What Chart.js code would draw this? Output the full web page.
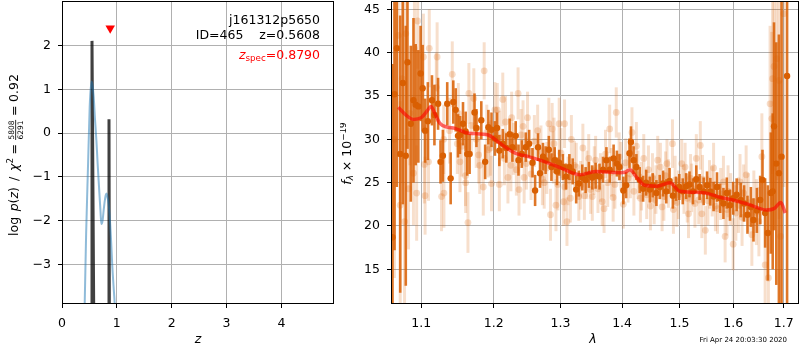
<!DOCTYPE html>
<html lang="en">
<head>
<meta charset="UTF-8">
<title>j161312p5650 redshift fit</title>
<script src="https://cdn.jsdelivr.net/npm/chart.js"></script>
<style>
    body {
        margin: 0;
        padding: 0;
        background: #fff;
        width: 800px;
        height: 350px;
        overflow: hidden;
        position: relative;
    }
    canvas {
        position: absolute;
        top: 0;
    }
    #pzChart { left: 0; }
    #specChart { left: 340px; }
</style>
</head>
<body>
<canvas id="pzChart" width="340" height="350"></canvas>
<canvas id="specChart" width="460" height="350"></canvas>
<script>
    // ---- p(z) panel ----
    const pzXTicks = [0, 1, 2, 3, 4];
    const pzYTicks = [-3, -2, -1, 0, 1, 2];
    const pzZ =    [0.39, 0.414, 0.44, 0.474, 0.505, 0.535, 0.555, 0.578, 0.60, 0.627, 0.65, 0.675, 0.70, 0.718, 0.74, 0.76, 0.78, 0.797, 0.812, 0.827, 0.85, 0.87, 0.895, 0.918, 0.94, 0.961, 0.99];
    const pzLogP = [-5.2, -3.91, -2.3, -0.77, 0.60, 1.18, 1.1, 0.83, 0.35, -0.16, -0.70, -1.23, -1.75, -2.08, -2.0, -1.76, -1.55, -1.42, -1.38, -1.45, -1.62, -1.91, -2.45, -3.06, -3.5, -3.91, -4.9];
    const spikeAZ = [0.532, 0.547, 0.581];
    const spikeALogP = [-4.6, 2.11, -4.6];
    const spikeBZ = [0.852, 0.857, 0.865];
    const spikeBLogP = [-4.6, 0.32, -4.6];
    const zSpec = 0.879;
    const zSpecMarkLogP = 2.4;
    const objName = 'j161312p5650';
    const idLine = 'ID=465    z=0.5608';
    const zSpecValue = '=0.8790';

    // ---- spectrum panel ----
    const specXTicks = [1.1, 1.2, 1.3, 1.4, 1.5, 1.6, 1.7];
    const specYTicks = [15, 20, 25, 30, 35, 40, 45];

    const darkLam = [1.0626, 1.0652, 1.0681, 1.0725, 1.0759, 1.0797, 1.0819, 1.0862, 1.0897, 1.0926, 1.0961, 1.0991, 1.1018, 1.1051, 1.1087, 1.1142, 1.1175, 1.1224, 1.1257, 1.1289,
        1.1348, 1.1395, 1.1431, 1.1464, 1.1496, 1.1523, 1.1565, 1.1602, 1.1624, 1.1657, 1.1726, 1.1753, 1.1822, 1.1877, 1.1923, 1.1968, 1.2017,
        1.2047, 1.2081, 1.2131, 1.2182, 1.2231, 1.2272, 1.2321, 1.2362, 1.2411, 1.2471, 1.2521, 1.2572, 1.2611, 1.2656, 1.2686, 1.2731, 1.2771, 1.2821, 1.2861, 1.2911, 1.2947, 1.2981,
        1.3039, 1.3087, 1.3141, 1.3194, 1.3249, 1.3291, 1.3346, 1.3400, 1.3453, 1.3508, 1.3562, 1.3626, 1.3683, 1.3739, 1.3793, 1.3858, 1.3913, 1.3955,
        1.4021, 1.4068, 1.4125, 1.4150, 1.4195, 1.4242, 1.4299, 1.4358, 1.4410, 1.4473, 1.4525, 1.4589, 1.4647, 1.4706, 1.4763, 1.4821, 1.4880, 1.4937, 1.4995,
        1.5058, 1.5119, 1.5180, 1.5244, 1.5305, 1.5366, 1.5441, 1.5504, 1.5565, 1.5626, 1.5690, 1.5751, 1.5812, 1.5876, 1.5937, 1.5998,
        1.6065, 1.6144, 1.6209, 1.6275, 1.6342, 1.6393, 1.6460, 1.6525, 1.6571, 1.6624, 1.6678, 1.6737, 1.6776, 1.6802, 1.6848, 1.6901, 1.6955, 1.7068];
    const darkFlux = [18.7, 35.2, 40.5, 28.3, 36.5, 28.1, 38.9, 31.8, 34.5, 34.0, 33.8, 37.6, 35.9, 31.0, 32.1, 34.5, 32.8, 34.1, 27.4, 28.1,
        34.1, 25.5, 34.3, 33.4, 30.4, 30.5, 31.8, 30.9, 28.3, 28.3, 33.1, 31.3, 32.2, 27.4, 31.4, 31.1, 30.1,
        31.3, 28.7, 29.5, 29.0, 30.6, 29.1, 30.4, 27.6, 28.3, 29.1, 29.5, 27.3, 24.1, 29.1, 26.1, 28.0, 27.6, 28.8, 26.8, 27.6, 26.3, 27.3,
        26.8, 25.7, 26.8, 26.3, 24.2, 24.9, 25.6, 25.3, 25.9, 25.6, 25.8, 25.7, 26.5, 27.6, 26.5, 27.8, 27.2, 26.8,
        24.1, 24.7, 28.4, 29.7, 27.6, 26.8, 25.3, 24.3, 25.0, 24.2, 24.7, 23.8, 24.5, 24.9, 24.0, 25.2, 23.5, 24.3, 24.5,
        24.0, 24.6, 24.8, 24.0, 25.4, 24.5, 24.0, 24.7, 23.95, 23.4, 24.5, 23.2, 22.6, 23.8, 22.4, 23.2,
        23.6, 23.0, 22.6, 21.3, 22.2, 20.7, 21.8, 23.0, 25.3, 21.5, 19.2, 23.8, 24.0, 31.5, 27.2, 26.1, 28.0, 37.3];
    const darkErr = [20, 18, 16, 16, 14, 15, 10, 9, 9.5, 7, 6.5, 5.5, 5, 3.7, 4.5, 2.9, 3.5, 3, 2.5, 3,
        2.5, 3, 2.5, 2.5, 2.5, 2.2, 2.5, 2.3, 2.5, 2.3, 2.2, 2.2, 2.2, 2, 2, 2, 2,
        1.8, 1.8, 1.7, 1.7, 1.8, 1.7, 1.7, 1.8, 1.6, 1.7, 1.6, 1.7, 1.8, 1.6, 1.7, 1.6, 1.6, 1.6, 1.6, 1.5, 1.6, 1.5,
        1.5, 1.5, 1.5, 1.5, 1.6, 1.5, 1.5, 1.5, 1.5, 1.4, 1.5, 1.5, 1.5, 1.5, 1.5, 1.6, 1.5, 1.5,
        1.6, 1.5, 1.7, 1.8, 1.6, 1.5, 1.5, 1.5, 1.5, 1.5, 1.4, 1.5, 1.4, 1.5, 1.4, 1.5, 1.5, 1.4, 1.5,
        1.5, 1.5, 1.5, 1.5, 1.6, 1.5, 1.6, 1.6, 1.6, 1.7, 1.7, 1.7, 1.8, 1.8, 1.8, 1.9,
        1.9, 2, 2.1, 2.2, 2.3, 2.5, 2.6, 2.8, 3.5, 4, 5.5, 7, 9, 12, 14, 16, 25, 30];

    const lightLam = [1.065, 1.070, 1.0725, 1.075, 1.0781, 1.0797, 1.0833, 1.085, 1.0897, 1.0910, 1.0939, 1.0952, 1.1028, 1.1041, 1.105, 1.1096, 1.1106, 1.1211, 1.12, 1.1271,
        1.13, 1.1303, 1.1380, 1.1417, 1.1486, 1.15, 1.1523, 1.1550, 1.16, 1.1602, 1.1634, 1.1647, 1.1680, 1.1716, 1.175, 1.1785, 1.1800, 1.1863, 1.185, 1.1900, 1.1923, 1.195, 1.1968,
        1.2017, 1.2051, 1.2081, 1.2085, 1.2131, 1.2155, 1.2171, 1.2206, 1.225, 1.2261, 1.2290, 1.2330, 1.2356, 1.2370, 1.24, 1.2430, 1.2446, 1.2480, 1.2497, 1.255, 1.2600, 1.265,
        1.2700, 1.2722, 1.275, 1.2790, 1.2821, 1.2846, 1.2872, 1.2890, 1.29, 1.2931, 1.2960, 1.2981,
        1.3010, 1.3049, 1.307, 1.3065, 1.3103, 1.3120, 1.3157, 1.3173, 1.322, 1.3250, 1.3291, 1.3320, 1.3356, 1.338, 1.3420, 1.345, 1.3480, 1.3508, 1.3540, 1.3562, 1.36, 1.3640,
        1.3670, 1.3700, 1.3724, 1.3760, 1.3793, 1.3820, 1.385, 1.3880, 1.3902, 1.395, 1.3980,
        1.4021, 1.4060, 1.41, 1.4140, 1.4167, 1.42, 1.4242, 1.4270, 1.4311, 1.4330, 1.4369, 1.4420, 1.445, 1.4485, 1.4520, 1.455, 1.4580, 1.4612, 1.4659, 1.4689, 1.4720, 1.475,
        1.4775, 1.4800, 1.4873, 1.4890, 1.4920, 1.495, 1.4980,
        1.5039, 1.5080, 1.5100, 1.5140, 1.5162, 1.52, 1.5220, 1.5280, 1.5305, 1.535, 1.5379, 1.5407, 1.5420, 1.5472, 1.5520, 1.555, 1.5600, 1.5626, 1.5660, 1.57, 1.5760,
        1.5812, 1.5844, 1.5880, 1.59, 1.5950, 1.5998,
        1.605, 1.6100, 1.6130, 1.6170, 1.62, 1.6249, 1.6290, 1.6361, 1.64, 1.6450, 1.65, 1.6559, 1.6624, 1.6689, 1.6723, 1.6757, 1.6773, 1.6802, 1.6855, 1.6907, 1.6935, 1.7000];
    const lightFlux = [30.0, 42.0, 22.4, 37.0, 20.5, 42.2, 24.3, 33.0, 26.1, 40.5, 23.8, 43.65, 39.5, 27.1, 23.5, 27.4, 40.5, 39.5, 36.0, 23.4,
        30.0, 23.8, 31.0, 37.5, 29.5, 33.0, 27.4, 29.2, 25.8, 25.0, 20.4, 35.3, 31.6, 34.7, 30.0, 28.2, 27.0, 37.9, 24.5, 30.8, 28.8, 29.0, 24.9,
        33.4, 33.4, 24.8, 30.2, 34.6, 27.8, 32.0, 25.6, 27.0, 32.5, 28.9, 26.5, 35.3, 24.2, 30.5, 31.5, 25.6, 27.2, 32.5, 26.0, 29.8, 31.0,
        28.6, 25.4, 25.0, 26.7, 31.8, 21.3, 31.2, 27.9, 29.5, 22.4, 24.8, 31.8,
        28.4, 22.8, 24.5, 31.8, 20.5, 25.2, 23.2, 30.0, 27.0, 26.8, 23.4, 24.7, 29.0, 23.5, 25.9, 27.8, 24.2, 23.4, 26.4, 27.6, 24.3, 25.6,
        22.8, 22.0, 28.3, 25.0, 31.2, 26.2, 23.3, 24.8, 33.1, 28.0, 26.9,
        22.5, 27.3, 25.5, 26.0, 30.8, 24.0, 29.2, 25.9, 23.2, 24.6, 27.8, 23.6, 26.5, 22.3, 25.6, 23.0, 24.2, 27.6, 26.8, 22.2, 23.4, 25.8,
        27.2, 24.9, 29.5, 21.9, 25.3, 22.7, 23.6,
        27.2, 24.2, 26.8, 23.2, 21.4, 25.5, 24.4, 22.6, 27.8, 23.0, 29.3, 21.4, 25.4, 19.5, 22.9, 24.8, 24.0, 26.7, 22.3, 22.0, 23.7,
        25.1, 18.8, 21.9, 24.0, 23.1, 17.9,
        21.5, 22.4, 25.1, 21.0, 23.8, 25.9, 22.7, 19.0, 22.8, 21.6, 20.5, 28.0, 15.5, 14.0, 34.1, 32.4, 37.0, 38.4, 39.3, 36.8, 18.8, 44.5];
    const lightErr = [16, 14, 12, 12, 10, 9, 7, 6, 6, 6, 5.5, 5.5, 5, 4.5, 4.5, 4.5, 4.5, 4, 4, 4,
        4, 4, 3.8, 3.8, 3.5, 3.5, 3.5, 3.5, 3.5, 3.5, 3.5, 3.5, 3.4, 3.5, 3.3, 3.3, 3.3, 3.3, 3.3, 3.2, 3.2, 3.2, 3.2,
        3.2, 3.1, 3.1, 3.1, 3.1, 3.1, 3, 3, 3, 3, 3, 3, 3, 3, 3, 3, 3, 3, 3, 3, 3, 3,
        3, 3, 3, 3, 3, 3, 3, 3, 3, 3, 3, 3,
        2.9, 2.8, 2.8, 2.8, 2.8, 2.8, 2.8, 2.8, 2.8, 2.8, 2.8, 2.8, 2.8, 2.8, 2.8, 2.8, 2.8, 2.8, 2.8, 2.8, 2.8, 2.8,
        2.8, 2.8, 2.8, 2.8, 2.8, 2.8, 2.8, 2.8, 2.9, 2.8, 2.8,
        2.8, 2.8, 2.8, 2.8, 2.9, 2.8, 2.8, 2.8, 2.8, 2.8, 2.8, 2.8, 2.8, 2.8, 2.8, 2.8, 2.8, 2.8, 2.8, 2.8, 2.8, 2.8,
        2.8, 2.8, 2.8, 2.8, 2.8, 2.8, 2.8,
        2.8, 2.8, 2.8, 2.8, 2.8, 2.8, 2.8, 2.8, 2.8, 2.8, 2.8, 2.8, 2.8, 2.8, 2.8, 2.8, 2.9, 2.9, 2.9, 2.9, 3,
        3, 3, 3, 3, 3, 3,
        3.2, 3.2, 3.2, 3.3, 3.3, 3.4, 3.4, 3.6, 3.6, 3.8, 4, 5, 6, 8, 9, 10, 11, 12, 14, 16, 18, 20];

    const modelLam = [1.070, 1.080, 1.0895, 1.100, 1.108, 1.1128, 1.118, 1.1249, 1.135, 1.1454, 1.1637, 1.1919, 1.2063, 1.2312, 1.2511, 1.2764, 1.3022, 1.3312, 1.3555, 1.3965, 1.405, 1.413, 1.425, 1.4388, 1.46, 1.4826, 1.5006, 1.525, 1.5475, 1.575, 1.599, 1.63, 1.665, 1.68, 1.694, 1.703];
    const modelFlux = [33.7, 32.8, 32.3, 32.5, 33.3, 33.8, 33.0, 31.85, 31.4, 31.27, 30.7, 30.5, 29.7, 28.4, 28.0, 27.4, 26.65, 25.9, 26.3, 26.15, 26.2, 26.5, 25.6, 24.7, 24.6, 25.0, 24.0, 23.9, 23.8, 23.3, 23.0, 22.5, 21.85, 22.0, 22.7, 21.5];

    const stamp = 'Fri Apr 24 20:03:30 2020';

    const FONT = "'DejaVu Sans', sans-serif";
    const tickFont = { family: FONT, size: 12.5 };
    const GRID = '#b0b0b0';
    const ORANGE = '#d95f02';

    function points(xs, ys) {
        return xs.map((x, i) => ({ x: x, y: ys[i] }));
    }
    function fmtNum(v) {
        return v < 0 ? '\u2212' + Math.abs(v) : String(v);
    }

    // rich text: parts drawn one after another on one baseline
    function setFont(ctx, p) {
        ctx.font = (p.it ? 'italic ' : '') + p.s + 'px ' + FONT;
    }
    function partWidth(ctx, p) {
        if (p.sp) return p.sp;
        if (p.frac) {
            ctx.font = p.s + 'px ' + FONT;
            return Math.max(ctx.measureText(p.frac[0]).width, ctx.measureText(p.frac[1]).width) + 3;
        }
        setFont(ctx, p);
        return ctx.measureText(p.t).width;
    }
    function richText(ctx, parts, x, y, align) {
        ctx.textAlign = 'left';
        ctx.textBaseline = 'alphabetic';
        let w = 0;
        parts.forEach(p => { p.w = partWidth(ctx, p); w += p.w; });
        let cx = align === 'right' ? x - w : align === 'center' ? x - w / 2 : x;
        parts.forEach(p => {
            if (p.frac) {
                ctx.font = p.s + 'px ' + FONT;
                ctx.textAlign = 'center';
                ctx.fillText(p.frac[0], cx + p.w / 2, y + p.num);
                ctx.fillText(p.frac[1], cx + p.w / 2, y + p.den);
                ctx.textAlign = 'left';
                ctx.fillRect(cx + 1, y + p.bar - 0.4, p.w - 2, 0.8);
            } else if (p.t) {
                setFont(ctx, p);
                ctx.fillText(p.t, cx, y + (p.dy || 0));
            }
            cx += p.w;
        });
    }

    const frame = {
        id: 'frame',
        afterDraw(chart) {
            const { ctx, chartArea: a } = chart;
            ctx.save();
            ctx.strokeStyle = '#000';
            ctx.lineWidth = 1;
            ctx.strokeRect(Math.round(a.left) + 0.5, Math.round(a.top) + 0.5, Math.round(a.right - a.left) - 1, Math.round(a.bottom - a.top) - 1);
            ctx.restore();
        }
    };

    const errorBars = {
        id: 'errorBars',
        beforeDatasetDraw(chart, args) {
            const ds = chart.data.datasets[args.index];
            if (!ds.errors) return;
            const { ctx, chartArea: a, scales: { x, y } } = chart;
            ctx.save();
            ctx.beginPath();
            ctx.rect(a.left, a.top, a.right - a.left, a.bottom - a.top);
            ctx.clip();
            ctx.strokeStyle = ds.errorColor;
            ctx.lineWidth = ds.errorWidth;
            ds.data.forEach((p, i) => {
                const px = x.getPixelForValue(p.x);
                ctx.beginPath();
                ctx.moveTo(px, y.getPixelForValue(p.y - ds.errors[i]));
                ctx.lineTo(px, y.getPixelForValue(p.y + ds.errors[i]));
                ctx.stroke();
            });
            ctx.restore();
        }
    };

    function axis(opts) {
        return Object.assign({
            afterBuildTicks: s => { s.ticks = opts.tickValues.map(v => ({ value: v })); },
            ticks: {
                font: tickFont, color: '#000', padding: opts.pad, autoSkip: false, maxRotation: 0,
                callback: opts.fmt
            },
            grid: { color: GRID, lineWidth: 1, tickColor: '#000', tickLength: 4, drawTicks: true },
            border: { display: false },
            afterFit: s => {
                if (opts.size.h) s.height = opts.size.h;
                if (opts.size.w) s.width = opts.size.w;
                s.paddingLeft = 0; s.paddingRight = 0; s.paddingTop = 0; s.paddingBottom = 0;
            }
        }, opts.base);
    }

    // ---------- left: p(z) ----------
    const pzLabels = {
        id: 'pzLabels',
        afterDraw(chart) {
            const { ctx, chartArea: a } = chart;
            ctx.save();
            ctx.fillStyle = '#000';
            richText(ctx, [{ t: objName, s: 12.5 }], a.right - 14, 24, 'right');
            richText(ctx, [{ t: idLine, s: 12.5 }], a.right - 14, 39, 'right');
            ctx.fillStyle = '#ff0000';
            richText(ctx, [{ t: 'z', s: 12.5, it: true }, { t: 'spec', s: 8.75, dy: 2.5 }, { t: zSpecValue, s: 12.5 }], a.right - 14, 58.5, 'right');
            ctx.fillStyle = '#000';
            richText(ctx, [{ t: 'z', s: 12.5, it: true }], (a.left + a.right) / 2, 343, 'center');
            ctx.translate(17.5, 155);
            ctx.rotate(-Math.PI / 2);
            richText(ctx, [
                { t: 'log', s: 12.5 }, { sp: 5.5 }, { t: 'p', s: 12.5, it: true }, { t: '(', s: 12.5 }, { t: 'z', s: 12.5, it: true },
                { t: ')', s: 12.5 }, { sp: 6 }, { t: '/', s: 12.5 }, { sp: 6 }, { t: '\u03c7', s: 12.5, it: true }, { t: '2', s: 8.75, dy: -5 },
                { sp: 3.5 }, { t: '=', s: 12.5 }, { sp: 3 }, { frac: ['5808', '6291'], s: 7.5, num: -3.5, den: 5.5, bar: -1.8 },
                { sp: 3 }, { t: '=', s: 12.5 }, { sp: 3.5 }, { t: '0.92', s: 12.5 }
            ], 0, 0, 'center');
            ctx.restore();
        }
    };

    new Chart(document.getElementById('pzChart'), {
        type: 'scatter',
        data: {
            datasets: [
                {
                    data: [{ x: zSpec, y: zSpecMarkLogP }],
                    pointStyle: 'triangle', rotation: 180, pointRadius: 5.5,
                    backgroundColor: '#ff0000', borderWidth: 0, order: 0
                },
                {
                    data: points(pzZ, pzLogP), showLine: true, borderColor: 'rgba(31,119,180,0.5)', borderWidth: 2,
                    pointRadius: 0, cubicInterpolationMode: 'monotone', clip: 0, order: 1
                },
                {
                    data: points(spikeAZ, spikeALogP), showLine: true, borderColor: 'rgba(0,0,0,0.75)', borderWidth: 3,
                    pointRadius: 0, tension: 0, clip: 0, order: 2
                },
                {
                    data: points(spikeBZ, spikeBLogP), showLine: true, borderColor: 'rgba(0,0,0,0.75)', borderWidth: 3,
                    pointRadius: 0, tension: 0, clip: 0, order: 2
                }
            ]
        },
        options: {
            responsive: false,
            animation: false,
            layout: { autoPadding: false, padding: { top: 1, left: 0, right: 6, bottom: 0 } },
            plugins: { legend: { display: false }, tooltip: { enabled: false } },
            scales: {
                x: axis({ tickValues: pzXTicks, pad: 8, fmt: v => fmtNum(v), size: { h: 46 }, base: { type: 'linear', min: 0, max: 4.96 } }),
                y: axis({ tickValues: pzYTicks, pad: 7, fmt: v => fmtNum(v), size: { w: 62 }, base: { type: 'linear', min: -3.908, max: 3.022 } })
            }
        },
        plugins: [frame, pzLabels]
    });

    // ---------- right: spectrum ----------
    const specLabels = {
        id: 'specLabels',
        afterDraw(chart) {
            const { ctx, chartArea: a } = chart;
            ctx.save();
            ctx.fillStyle = '#000';
            richText(ctx, [{ t: '\u03bb', s: 12.5, it: true }], (a.left + a.right) / 2 - 2, 343, 'center');
            richText(ctx, [{ t: stamp, s: 7 }], a.right - 12, 341.5, 'right');
            ctx.translate(10.5, 153.5);
            ctx.rotate(-Math.PI / 2);
            richText(ctx, [
                { t: 'f', s: 12.5, it: true }, { t: '\u03bb', s: 8.75, it: true, dy: 2.5 },
                { t: ' \u00d7 10', s: 12.5 }, { t: '\u221219', s: 8.75, dy: -5 }
            ], 0, 0, 'center');
            ctx.restore();
        }
    };

    new Chart(document.getElementById('specChart'), {
        type: 'scatter',
        data: {
            datasets: [
                {
                    data: points(modelLam, modelFlux), showLine: true, borderColor: 'rgba(255,0,0,0.6)', borderWidth: 3.5,
                    pointRadius: 0, cubicInterpolationMode: 'monotone', order: 1
                },
                {
                    data: points(darkLam, darkFlux), errors: darkErr, errorColor: 'rgba(217,95,2,0.85)', errorWidth: 2.6,
                    pointRadius: 3.2, backgroundColor: ORANGE, borderWidth: 0, order: 2
                },
                {
                    data: points(lightLam, lightFlux), errors: lightErr, errorColor: 'rgba(217,95,2,0.2)', errorWidth: 3,
                    pointRadius: 3.4, backgroundColor: 'rgba(217,95,2,0.22)', borderWidth: 0, order: 3
                }
            ]
        },
        options: {
            responsive: false,
            animation: false,
            layout: { autoPadding: false, padding: { top: 1, left: 0, right: 1, bottom: 0 } },
            plugins: { legend: { display: false }, tooltip: { enabled: false } },
            scales: {
                x: axis({ tickValues: specXTicks, pad: 8, fmt: v => Number(v).toFixed(1), size: { h: 46 }, base: { type: 'logarithmic', min: 1.0607, max: 1.7314 } }),
                y: axis({ tickValues: specYTicks, pad: 7, fmt: v => String(v), size: { w: 51 }, base: { type: 'linear', min: 11.0, max: 45.96 } })
            }
        },
        plugins: [frame, errorBars, specLabels]
    });
</script>
</body>
</html>
